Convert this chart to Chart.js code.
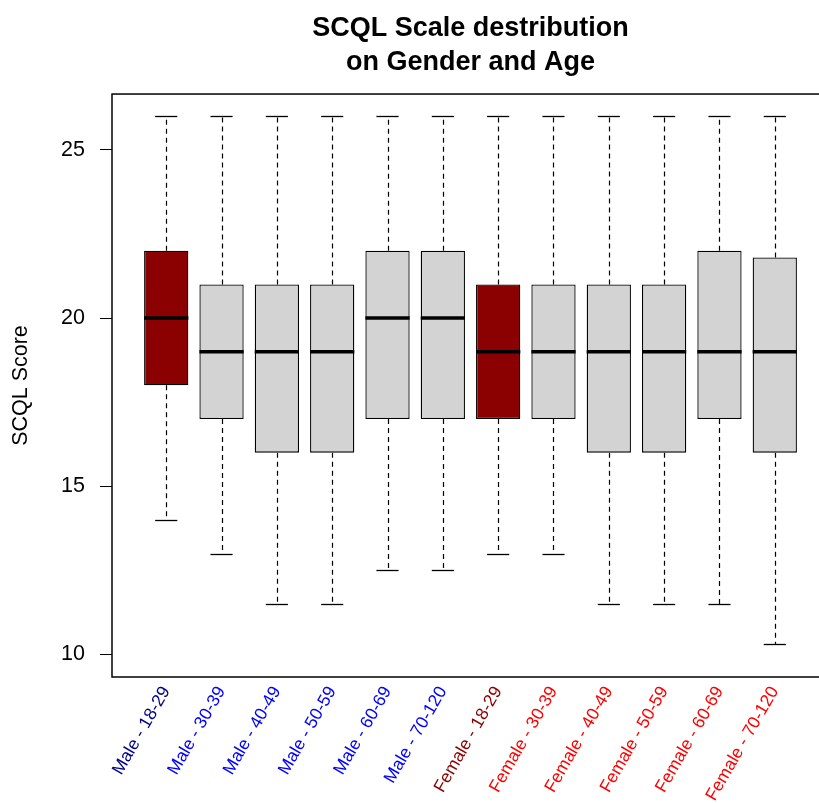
<!DOCTYPE html>
<html>
<head>
<meta charset="utf-8">
<title>SCQL Scale</title>
<script src="https://cdn.jsdelivr.net/npm/chart.js@4.4.0/dist/chart.umd.min.js"></script>
<style>
html,body{margin:0;padding:0;background:#fff;overflow:hidden}
#wrap{width:840px;height:803px}
</style>
</head>
<body>
<div id="wrap"><canvas id="boxes" width="840" height="803"></canvas></div>
<script>
const FONT = "'Liberation Sans', Arial, Helvetica, sans-serif";

// groups (gender - age band)
const grupos = ["Male - 18-29","Male - 30-39","Male - 40-49","Male - 50-59","Male - 60-69","Male - 70-120",
                "Female - 18-29","Female - 30-39","Female - 40-49","Female - 50-59","Female - 60-69","Female - 70-120"];
const corLabel = ["#00008B","#0000FF","#0000FF","#0000FF","#0000FF","#0000FF",
                  "#8B0000","#FF0000","#FF0000","#FF0000","#FF0000","#FF0000"];
const corBox = ["#8B0000","#D3D3D3","#D3D3D3","#D3D3D3","#D3D3D3","#D3D3D3",
                "#8B0000","#D3D3D3","#D3D3D3","#D3D3D3","#D3D3D3","#D3D3D3"];

// five-number summaries
const minimo  = [14, 13, 11.5, 11.5, 12.5, 12.5, 13, 13, 11.5, 11.5, 11.5, 10.3];
const q1      = [18, 17, 16,   16,   17,   17,   17, 17, 16,   16,   17,   16];
const mediana = [20, 19, 19,   19,   20,   20,   19, 19, 19,   19,   19,   19];
const q3      = [22, 21, 21,   21,   22,   22,   21, 21, 21,   21,   22,   21.8];
const maximo  = [26, 26, 26,   26,   26,   26,   26, 26, 26,   26,   26,   26];

const yTicks = [10, 15, 20, 25];

// whiskers under the boxes, median + caps + frame on top
const boxExtras = {
  id: "boxExtras",
  beforeDatasetsDraw(chart){
    const {ctx, scales:{x, y}} = chart;
    ctx.save();
    ctx.strokeStyle = "#000";
    ctx.lineWidth = 1.2;
    ctx.setLineDash([5, 4]);
    grupos.forEach((_, i)=>{
      const px = Math.round(x.getPixelForValue(i+1)) + 0.5;
      ctx.beginPath();
      ctx.moveTo(px, y.getPixelForValue(q3[i]));
      ctx.lineTo(px, y.getPixelForValue(maximo[i]));
      ctx.moveTo(px, y.getPixelForValue(q1[i]));
      ctx.lineTo(px, y.getPixelForValue(minimo[i]));
      ctx.stroke();
    });
    ctx.restore();
  },
  afterDatasetsDraw(chart){
    const {ctx, scales:{x, y}} = chart;
    const bars = chart.getDatasetMeta(0).data;
    ctx.save();
    ctx.strokeStyle = "#000";
    grupos.forEach((_, i)=>{
      const px = x.getPixelForValue(i+1);
      const w = bars[i].width;
      ctx.lineWidth = 1.3;
      [minimo[i], maximo[i]].forEach(v=>{
        const py = Math.round(y.getPixelForValue(v)) + 0.5;
        ctx.beginPath();
        ctx.moveTo(px - w/4, py);
        ctx.lineTo(px + w/4, py);
        ctx.stroke();
      });
      ctx.lineWidth = 3.5;
      const pm = y.getPixelForValue(mediana[i]);
      ctx.beginPath();
      ctx.moveTo(px - w/2, pm);
      ctx.lineTo(px + w/2, pm);
      ctx.stroke();
    });
    const a = chart.chartArea;
    ctx.lineWidth = 1.5;
    ctx.strokeRect(a.left, a.top, a.right - a.left, a.bottom - a.top);
    ctx.restore();
  }
};

new Chart(document.getElementById("boxes"), {
  type: "bar",
  data: {
    datasets: [{
      data: grupos.map((g, i)=>({ x: i+1, y: [q1[i], q3[i]] })),
      backgroundColor: corBox,
      borderColor: "#000",
      borderWidth: 1.3,
      borderSkipped: false,
      barPercentage: 0.8,
      categoryPercentage: 1
    }]
  },
  options: {
    responsive: false,
    animation: false,
    devicePixelRatio: 1,
    layout: { padding: { left: 0, right: 11, top: 0, bottom: 0 } },
    plugins: {
      legend: { display: false },
      tooltip: { enabled: false },
      title: {
        display: true,
        fullSize: false,
        text: ["SCQL Scale destribution", "on Gender and Age"],
        color: "#000",
        font: { family: FONT, size: 27, weight: "bold", lineHeight: 1.26 },
        padding: { top: 12, bottom: 14 }
      }
    },
    scales: {
      x: {
        type: "linear",
        offset: false,
        min: 0.02,
        max: 12.98,
        grid: { display: false, drawTicks: false },
        border: { display: false },
        afterBuildTicks: s => { s.ticks = grupos.map((_, i)=>({ value: i+1 })); },
        ticks: {
          autoSkip: false,
          minRotation: 60,
          maxRotation: 60,
          padding: 6,
          font: { family: FONT, size: 17.5 },
          color: c => corLabel[c.index],
          callback: v => grupos[v-1]
        },
        afterFit: s => { s.height = 126; }
      },
      y: {
        min: 9.33,
        max: 26.66,
        afterBuildTicks: s => { s.ticks = yTicks.map(v=>({ value: v })); },
        grid: { drawOnChartArea: false, tickLength: 12, color: "#000" },
        border: { display: false },
        ticks: { padding: 15, color: "#000", font: { family: FONT, size: 21.5 } },
        title: {
          display: true,
          text: "SCQL Score",
          color: "#000",
          font: { family: FONT, size: 21.5 },
          padding: { top: 8, bottom: 0 }
        },
        afterFit: s => { s.width = 112; }
      }
    }
  },
  plugins: [boxExtras]
});
</script>
</body>
</html>
